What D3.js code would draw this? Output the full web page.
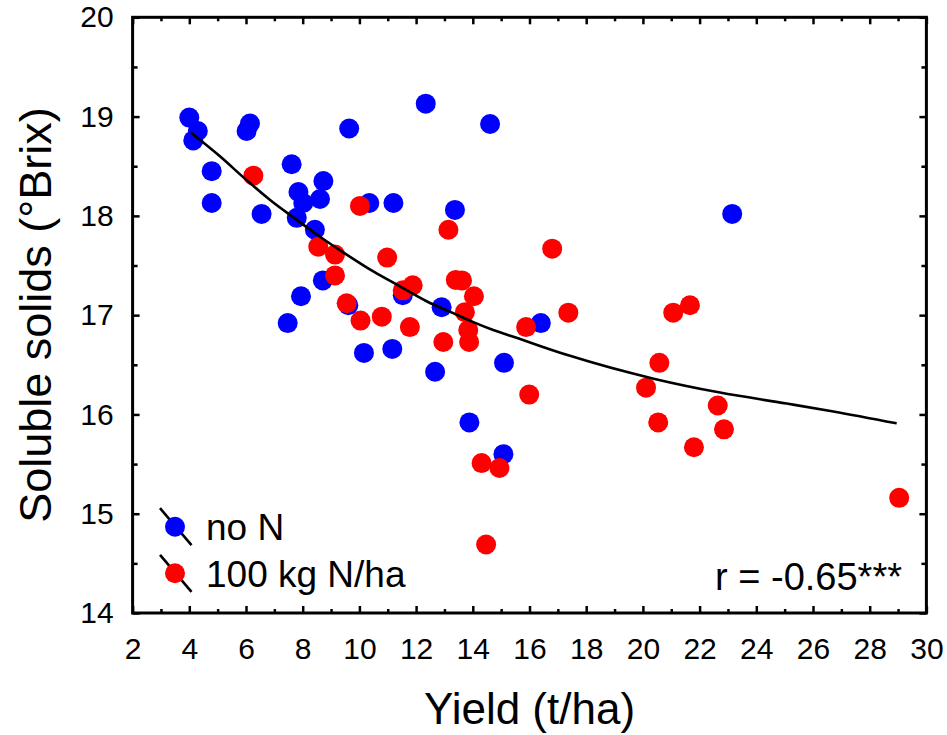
<!DOCTYPE html>
<html>
<head>
<meta charset="utf-8">
<script src="https://cdn.jsdelivr.net/npm/d3@7/dist/d3.min.js"></script>
<style>
  html, body { margin: 0; padding: 0; background: #fff; }
  svg { display: block; font-family: "Liberation Sans", Arial, sans-serif; }
</style>
</head>
<body>
<svg id="chart" width="947" height="735"></svg>
<script>
// Yield vs soluble solids, two nitrogen treatments
const noN = [
  [4.00, 18.99], [4.30, 18.855], [4.14, 18.76], [4.79, 18.45], [4.79, 18.13],
  [6.14, 18.93], [6.02, 18.855], [6.55, 18.02], [7.61, 18.52], [7.85, 18.24],
  [8.02, 18.13], [8.61, 18.17], [8.73, 18.35], [7.79, 17.98], [8.43, 17.86],
  [9.64, 18.88], [10.35, 18.13], [11.20, 18.13], [12.34, 19.13], [13.37, 18.06],
  [14.61, 18.925], [8.71, 17.35], [7.94, 17.19], [9.61, 17.10], [11.53, 17.20],
  [12.90, 17.08], [7.47, 16.92], [16.40, 16.92], [23.15, 18.02], [10.16, 16.62],
  [11.16, 16.66], [12.67, 16.43], [15.10, 16.52], [13.88, 15.92], [15.08, 15.60]
];
const n100 = [
  [6.26, 18.405], [10.02, 18.10], [13.14, 17.86], [8.55, 17.69], [9.14, 17.61],
  [9.14, 17.40], [10.98, 17.58], [11.88, 17.30], [11.53, 17.25], [13.40, 17.355],
  [13.62, 17.35], [14.04, 17.19], [13.72, 17.03], [9.55, 17.12], [10.04, 16.945],
  [10.79, 16.985], [11.78, 16.88], [13.84, 16.85], [13.87, 16.73], [12.96, 16.73],
  [15.88, 16.88], [15.99, 16.20], [14.31, 15.51], [14.94, 15.46], [14.47, 14.69],
  [16.80, 17.67], [17.37, 17.025], [21.07, 17.025], [21.66, 17.10], [20.58, 16.52],
  [20.11, 16.27], [20.54, 15.92], [22.64, 16.09], [22.86, 15.85], [21.80, 15.67],
  [29.04, 15.16]
];
// fitted trend across both treatments
const fitLine = [
  [4.05, 18.84], [5.08, 18.60], [6.02, 18.36], [6.85, 18.16], [7.79, 17.96],
  [8.61, 17.79], [9.55, 17.61], [10.49, 17.44], [11.43, 17.29], [12.37, 17.14],
  [13.31, 17.02], [14.02, 16.93], [14.72, 16.85], [15.67, 16.76], [16.37, 16.69],
  [17.43, 16.59], [20.38, 16.36], [22.72, 16.22], [25.07, 16.11], [26.72, 16.03],
  [28.95, 15.91]
];
const xMajor = [2, 4, 6, 8, 10, 12, 14, 16, 18, 20, 22, 24, 26, 28, 30];
const xMinor = [3, 5, 7, 9, 11, 13, 15, 17, 19, 21, 23, 25, 27, 29];
const yMajor = [14, 15, 16, 17, 18, 19, 20];
const yMinor = [14.5, 15.5, 16.5, 17.5, 18.5, 19.5];
const legendItems = [
  { label: "no N", color: "#0000ff" },
  { label: "100 kg N/ha", color: "#ff0000" }
];
const statText = "r = -0.65***";

const plotL = 132.6, plotR = 926.4, plotT = 17.3, plotB = 613;
const svg = d3.select("#chart");
const x = d3.scaleLinear().domain([2, 30]).range([plotL, plotR]);
const y = d3.scaleLinear().domain([14, 20]).range([plotB, plotT]);

function styleAxis(g) {
  g.select(".domain").remove();
  g.selectAll(".tick line").attr("stroke", "#000").attr("stroke-width", 2.5);
}

// bottom axis with labels
const gx = svg.append("g").attr("transform", `translate(0,${plotB})`)
  .call(d3.axisBottom(x).tickValues(xMajor).tickSize(-7).tickPadding(25).tickFormat(d3.format("d")));
styleAxis(gx);
gx.selectAll("text").attr("font-size", 30).attr("fill", "#000").attr("font-family", "Liberation Sans, Arial, sans-serif");
svg.append("g").attr("transform", `translate(0,${plotB})`)
  .call(d3.axisBottom(x).tickValues(xMinor).tickSize(-4).tickFormat("")).call(styleAxis);

// left axis with labels
const gy = svg.append("g").attr("transform", `translate(${plotL},0)`)
  .call(d3.axisLeft(y).tickValues(yMajor).tickSize(-7).tickPadding(19).tickFormat(d3.format("d")));
styleAxis(gy);
gy.selectAll("text").attr("font-size", 30).attr("fill", "#000").attr("font-family", "Liberation Sans, Arial, sans-serif");
svg.append("g").attr("transform", `translate(${plotL},0)`)
  .call(d3.axisLeft(y).tickValues(yMinor).tickSize(-5).tickFormat("")).call(styleAxis);

// top and right mirrored ticks
svg.append("g").attr("transform", `translate(0,${plotT})`)
  .call(d3.axisTop(x).tickValues(xMajor).tickSize(-7).tickFormat("")).call(styleAxis);
svg.append("g").attr("transform", `translate(0,${plotT})`)
  .call(d3.axisTop(x).tickValues(xMinor).tickSize(-4).tickFormat("")).call(styleAxis);
svg.append("g").attr("transform", `translate(${plotR},0)`)
  .call(d3.axisRight(y).tickValues(yMajor).tickSize(-7).tickFormat("")).call(styleAxis);
svg.append("g").attr("transform", `translate(${plotR},0)`)
  .call(d3.axisRight(y).tickValues(yMinor).tickSize(-5).tickFormat("")).call(styleAxis);

// frame
svg.append("rect")
  .attr("x", plotL).attr("y", plotT)
  .attr("width", plotR - plotL).attr("height", plotB - plotT)
  .attr("fill", "none").attr("stroke", "#000").attr("stroke-width", 3);

// points
const R = 10;
svg.append("g").selectAll("circle").data(noN).join("circle")
  .attr("cx", d => x(d[0])).attr("cy", d => y(d[1])).attr("r", R).attr("fill", "#0000ff");
svg.append("g").selectAll("circle").data(n100).join("circle")
  .attr("cx", d => x(d[0])).attr("cy", d => y(d[1])).attr("r", R).attr("fill", "#ff0000");

// trend line
svg.append("path")
  .datum(fitLine)
  .attr("d", d3.line().curve(d3.curveMonotoneX).x(d => x(d[0])).y(d => y(d[1])))
  .attr("fill", "none").attr("stroke", "#000").attr("stroke-width", 2.6);

// legend
const lg = svg.append("g");
legendItems.forEach((it, i) => {
  const cy = 526.7 + i * 46.6;
  lg.append("line")
    .attr("x1", 160).attr("y1", cy - 18.5).attr("x2", 191.5).attr("y2", cy + 18.5)
    .attr("stroke", "#000").attr("stroke-width", 2.6);
  lg.append("circle").attr("cx", 175).attr("cy", cy).attr("r", R).attr("fill", it.color);
  lg.append("text").attr("x", 206).attr("y", cy + 13.5)
    .attr("font-size", 37).attr("fill", "#000").text(it.label);
});

// correlation note
svg.append("text").attr("x", 902).attr("y", 590).attr("text-anchor", "end")
  .attr("font-size", 38).attr("fill", "#000").text(statText);

// axis titles
svg.append("text").attr("x", (plotL + plotR) / 2).attr("y", 724).attr("text-anchor", "middle")
  .attr("font-size", 44).attr("fill", "#000").text("Yield (t/ha)");
svg.append("text").attr("transform", "translate(51,315) rotate(-90)").attr("text-anchor", "middle")
  .attr("font-size", 45).attr("fill", "#000").text("Soluble solids (°Brix)");
</script>
</body>
</html>
